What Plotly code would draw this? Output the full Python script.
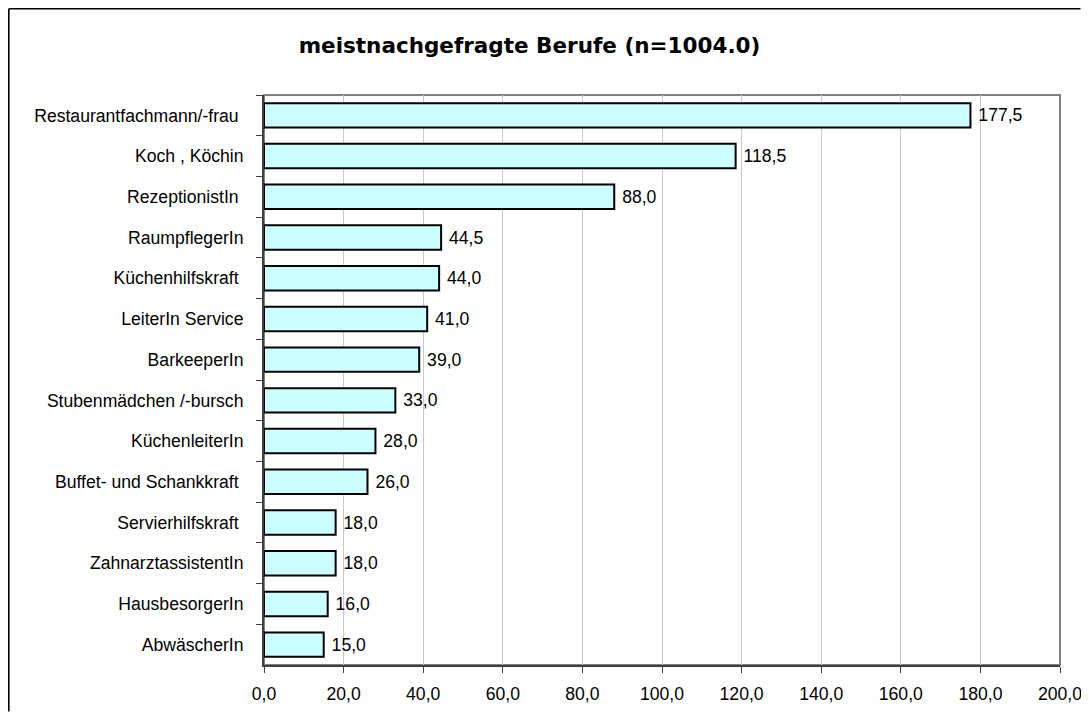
import plotly.graph_objects as go

categories = ["Restaurantfachmann/-frau ", "Koch , Köchin", "RezeptionistIn ", "RaumpflegerIn",
              "Küchenhilfskraft ", "LeiterIn Service", "BarkeeperIn", "Stubenmädchen /-bursch",
              "KüchenleiterIn", "Buffet- und Schankkraft ", "Servierhilfskraft ", "ZahnarztassistentIn",
              "HausbesorgerIn", "AbwäscherIn"]
values = [177.5, 118.5, 88.0, 44.5, 44.0, 41.0, 39.0, 33.0, 28.0, 26.0, 18.0, 18.0, 16.0, 15.0]
x_ticks = [0, 20, 40, 60, 80, 100, 120, 140, 160, 180, 200]
title_text = "meistnachgefragte Berufe (n=1004.0)"

OFF = 8  # default page body margin
W, H = 1089 - 2 * OFF, 720 - 2 * OFF
L, T = 264 - OFF, 95 - OFF
R = W - (1060 - OFF)
B = H - (665 - OFF)
pw, ph = W - L - R, H - T - B

FS = 17.6

fig = go.Figure(go.Bar(
    x=values, y=categories, orientation="h",
    marker=dict(color="#ccffff", line=dict(color="black", width=2)),
    width=0.6,
    texttemplate=" %{x:.1f}", textposition="outside", cliponaxis=False,
    textfont=dict(family="Liberation Sans, Arial", size=FS, color="black"),
))

fig.update_layout(
    width=W, height=H, margin=dict(l=L, r=R, t=T, b=B, autoexpand=False),
    paper_bgcolor="white", plot_bgcolor="white",
    separators=",.",
    showlegend=False,
    font=dict(family="Liberation Sans, Arial", size=FS, color="black"),
    title=dict(text="<b>" + title_text + "</b>", x=(529.5 - OFF) / W, xanchor="center",
               y=1 - (45 - OFF) / H, yanchor="middle", xref="container", yref="container",
               font=dict(family="DejaVu Sans", size=21.5, color="black")),
)

fig.update_xaxes(range=[0, 200], tickvals=x_ticks, tickformat=".1f", automargin=False,
                 showgrid=True, gridcolor="#c8c8c8", gridwidth=1,
                 showline=True, linecolor="#404040", linewidth=2,
                 ticks="outside", ticklen=6, tickcolor="#404040", tickwidth=1,
                 zeroline=False, tickfont=dict(size=FS), ticklabelstandoff=6,
                 ticklabeloverflow="allow")
fig.update_yaxes(categoryorder="array", categoryarray=categories, autorange="reversed",
                 automargin=False,
                 showline=True, linecolor="#404040", linewidth=2,
                 ticks="outside", tickson="boundaries", ticklen=6, tickcolor="#404040",
                 showgrid=False, tickfont=dict(size=FS), ticklabelstandoff=15)

# plot-area frame (gray top/right)
fig.add_shape(type="rect", xref="paper", yref="paper", x0=0, x1=1, y0=0, y1=1,
              line=dict(color="#808080", width=2), layer="below")
# outer chart border: only left and top edges are in view
bx = (0.8 - L) / pw
by = (H - B - 0.8) / ph
fig.add_shape(type="line", xref="paper", yref="paper", x0=bx, x1=bx, y0=(H - B - (H - 0.5)) / ph, y1=by,
              line=dict(color="black", width=1.6), layer="below")
fig.add_shape(type="line", xref="paper", yref="paper", x0=bx, x1=(W - 0.5 - L) / pw, y0=by, y1=by,
              line=dict(color="black", width=1.6), layer="below")

fig.write_html("out.html")
